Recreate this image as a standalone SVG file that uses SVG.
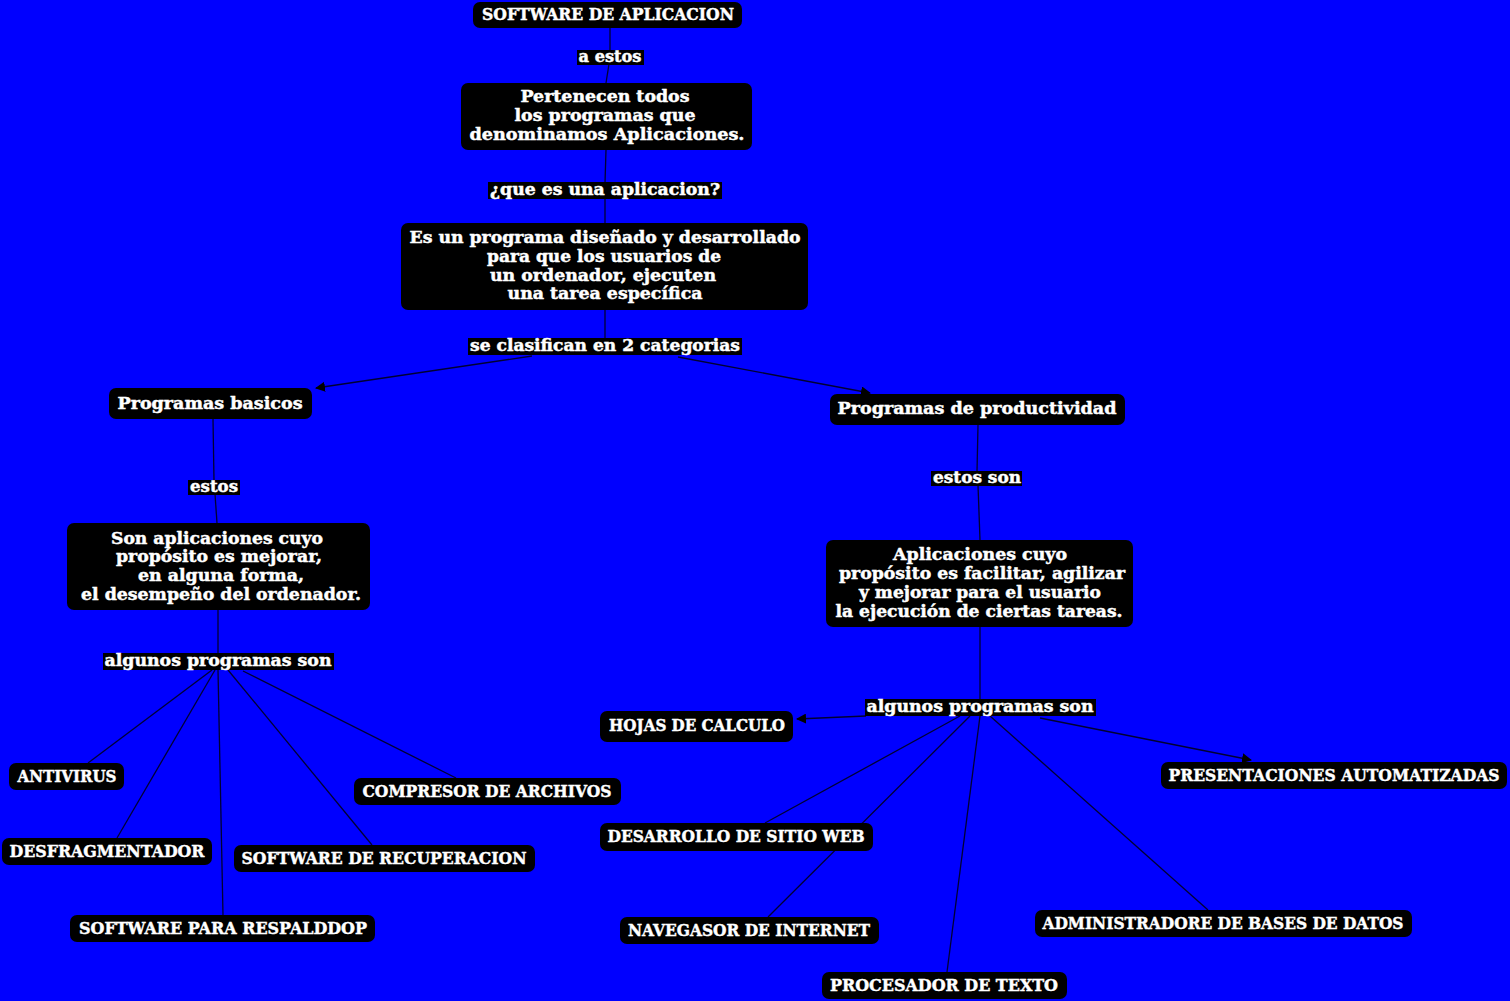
<svg xmlns="http://www.w3.org/2000/svg" width="1510" height="1001" viewBox="0 0 1510 1001">
<style>
.n{fill:#000;}
.lb{fill:#000;}
text{font-family:"DejaVu Serif","Liberation Serif",serif;font-weight:bold;font-size:16px;fill:#fff;stroke:#fff;stroke-width:0.45;text-anchor:middle;}
.c{stroke:#000033;stroke-width:1.3;fill:none;}
</style>
<defs>
<marker id="ah" viewBox="0 0 10 10" refX="9" refY="5" markerWidth="10" markerHeight="10" markerUnits="userSpaceOnUse" orient="auto">
<path d="M0,0 L10,5 L0,10 z" fill="#000"/>
</marker>
</defs>
<rect x="0" y="0" width="1510" height="1001" fill="#0000ff"/>
<g id="connectors">
<line class="c" x1="610" y1="28" x2="610" y2="51"/>
<line class="c" x1="609" y1="64" x2="606" y2="83"/>
<line class="c" x1="606" y1="150" x2="605" y2="183"/>
<line class="c" x1="605" y1="198" x2="605" y2="223"/>
<line class="c" x1="605" y1="310" x2="605" y2="338"/>
<line class="c" x1="532" y1="356" x2="316" y2="388" marker-end="url(#ah)"/>
<line class="c" x1="678" y1="357" x2="870" y2="393" marker-end="url(#ah)"/>
<line class="c" x1="213" y1="419" x2="214" y2="481"/>
<line class="c" x1="215" y1="494" x2="217" y2="523"/>
<line class="c" x1="978" y1="425" x2="977" y2="472"/>
<line class="c" x1="978" y1="485" x2="980" y2="540"/>
<line class="c" x1="218" y1="610" x2="218" y2="654"/>
<line class="c" x1="980" y1="627" x2="980" y2="700"/>
<line class="c" x1="212" y1="670" x2="88" y2="763"/>
<line class="c" x1="215" y1="670" x2="117" y2="838"/>
<line class="c" x1="218" y1="670" x2="223" y2="915"/>
<line class="c" x1="228" y1="670" x2="372" y2="845"/>
<line class="c" x1="243" y1="671" x2="456" y2="778"/>
<line class="c" x1="866" y1="716" x2="797" y2="719" marker-end="url(#ah)"/>
<line class="c" x1="1040" y1="718" x2="1251" y2="760" marker-end="url(#ah)"/>
<line class="c" x1="960" y1="716" x2="765" y2="823"/>
<line class="c" x1="970" y1="716" x2="768" y2="917"/>
<line class="c" x1="980" y1="716" x2="947" y2="972"/>
<line class="c" x1="990" y1="716" x2="1208" y2="910"/>
</g>
<g id="lbl1"><rect class="lb" x="577" y="50" width="67" height="15"/><text x="610" y="62" textLength="63" lengthAdjust="spacingAndGlyphs">a estos</text></g>
<g id="lbl2"><rect class="lb" x="488" y="182" width="234" height="17"/><text x="605" y="195" textLength="230" lengthAdjust="spacingAndGlyphs">¿que es una aplicacion?</text></g>
<g id="lbl3"><rect class="lb" x="468" y="338" width="274" height="17"/><text x="605" y="351" textLength="270" lengthAdjust="spacingAndGlyphs">se clasifican en 2 categorias</text></g>
<g id="lbl4"><rect class="lb" x="188" y="480" width="52" height="15"/><text x="214" y="492" textLength="48" lengthAdjust="spacingAndGlyphs">estos</text></g>
<g id="lbl5"><rect class="lb" x="931" y="471" width="91" height="15"/><text x="977" y="483" textLength="88" lengthAdjust="spacingAndGlyphs">estos son</text></g>
<g id="lbl6"><rect class="lb" x="103" y="653" width="231" height="17"/><text x="218" y="666" textLength="227" lengthAdjust="spacingAndGlyphs">algunos programas son</text></g>
<g id="lbl7"><rect class="lb" x="865" y="699" width="231" height="17"/><text x="980" y="712" textLength="227" lengthAdjust="spacingAndGlyphs">algunos programas son</text></g>

<g id="n1"><rect class="n" x="473" y="2" width="269" height="26" rx="7"/><text x="608" y="20" textLength="252" lengthAdjust="spacingAndGlyphs">SOFTWARE DE APLICACION</text></g>
<g id="n2"><rect class="n" x="461" y="83" width="291" height="67" rx="7"/>
<text x="605" y="102" textLength="169" lengthAdjust="spacingAndGlyphs">Pertenecen todos</text>
<text x="605" y="121" textLength="181" lengthAdjust="spacingAndGlyphs">los programas que</text>
<text x="607" y="140" textLength="275" lengthAdjust="spacingAndGlyphs">denominamos Aplicaciones.</text></g>
<g id="n3"><rect class="n" x="401" y="223" width="407" height="87" rx="7"/>
<text x="605" y="243" textLength="391" lengthAdjust="spacingAndGlyphs">Es un programa diseñado y desarrollado</text>
<text x="604" y="262" textLength="234" lengthAdjust="spacingAndGlyphs">para que los usuarios de</text>
<text x="603" y="281" textLength="226" lengthAdjust="spacingAndGlyphs">un ordenador, ejecuten</text>
<text x="605" y="299" textLength="195" lengthAdjust="spacingAndGlyphs">una tarea específica</text></g>
<g id="n4"><rect class="n" x="109" y="388" width="203" height="31" rx="7"/><text x="210" y="409" textLength="185" lengthAdjust="spacingAndGlyphs">Programas basicos</text></g>
<g id="n5"><rect class="n" x="830" y="394" width="295" height="31" rx="7"/><text x="977" y="414" textLength="279" lengthAdjust="spacingAndGlyphs">Programas de productividad</text></g>
<g id="n6"><rect class="n" x="67" y="523" width="303" height="87" rx="7"/>
<text x="217" y="544" textLength="212" lengthAdjust="spacingAndGlyphs">Son aplicaciones cuyo</text>
<text x="219" y="562" textLength="206" lengthAdjust="spacingAndGlyphs">propósito es mejorar,</text>
<text x="221" y="581" textLength="166" lengthAdjust="spacingAndGlyphs">en alguna forma,</text>
<text x="221" y="600" textLength="280" lengthAdjust="spacingAndGlyphs">el desempeño del ordenador.</text></g>
<g id="n7"><rect class="n" x="826" y="540" width="307" height="87" rx="7"/>
<text x="980" y="560" textLength="174" lengthAdjust="spacingAndGlyphs">Aplicaciones cuyo</text>
<text x="982" y="579" textLength="286" lengthAdjust="spacingAndGlyphs">propósito es facilitar, agilizar</text>
<text x="980" y="598" textLength="242" lengthAdjust="spacingAndGlyphs">y mejorar para el usuario</text>
<text x="979" y="617" textLength="287" lengthAdjust="spacingAndGlyphs">la ejecución de ciertas tareas.</text></g>
<g id="n8"><rect class="n" x="9" y="763" width="115" height="27" rx="7"/><text x="67" y="782" textLength="99" lengthAdjust="spacingAndGlyphs">ANTIVIRUS</text></g>
<g id="n9"><rect class="n" x="2" y="838" width="210" height="27" rx="7"/><text x="107" y="857" textLength="195" lengthAdjust="spacingAndGlyphs">DESFRAGMENTADOR</text></g>
<g id="n10"><rect class="n" x="70" y="915" width="305" height="27" rx="7"/><text x="223" y="934" textLength="288" lengthAdjust="spacingAndGlyphs">SOFTWARE PARA RESPALDDOP</text></g>
<g id="n11"><rect class="n" x="354" y="778" width="267" height="27" rx="7"/><text x="487" y="797" textLength="249" lengthAdjust="spacingAndGlyphs">COMPRESOR DE ARCHIVOS</text></g>
<g id="n12"><rect class="n" x="234" y="845" width="301" height="27" rx="7"/><text x="384" y="864" textLength="285" lengthAdjust="spacingAndGlyphs">SOFTWARE DE RECUPERACION</text></g>
<g id="n13"><rect class="n" x="600" y="711" width="193" height="31" rx="7"/><text x="697" y="731" textLength="176" lengthAdjust="spacingAndGlyphs">HOJAS DE CALCULO</text></g>
<g id="n14"><rect class="n" x="1161" y="762" width="346" height="27" rx="7"/><text x="1334" y="781" textLength="331" lengthAdjust="spacingAndGlyphs">PRESENTACIONES AUTOMATIZADAS</text></g>
<g id="n15"><rect class="n" x="600" y="823" width="273" height="28" rx="7"/><text x="736" y="842" textLength="257" lengthAdjust="spacingAndGlyphs">DESARROLLO DE SITIO WEB</text></g>
<g id="n16"><rect class="n" x="620" y="917" width="259" height="27" rx="7"/><text x="749" y="936" textLength="242" lengthAdjust="spacingAndGlyphs">NAVEGASOR DE INTERNET</text></g>
<g id="n17"><rect class="n" x="822" y="972" width="245" height="27" rx="7"/><text x="944" y="991" textLength="228" lengthAdjust="spacingAndGlyphs">PROCESADOR DE TEXTO</text></g>
<g id="n18"><rect class="n" x="1035" y="910" width="377" height="27" rx="7"/><text x="1223" y="929" textLength="361" lengthAdjust="spacingAndGlyphs">ADMINISTRADORE DE BASES DE DATOS</text></g>
</svg>
